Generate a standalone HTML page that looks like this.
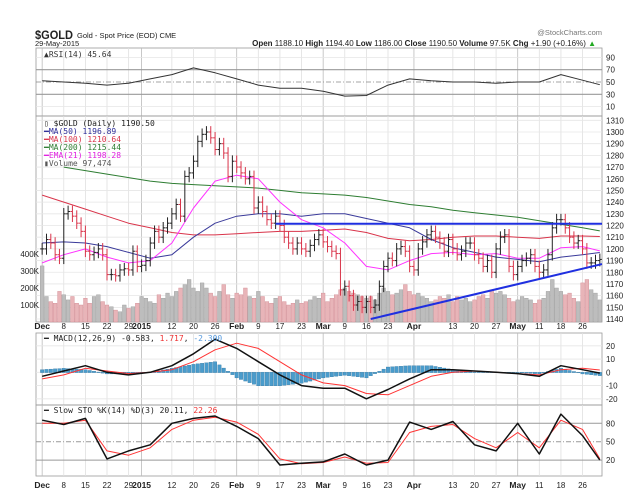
<!DOCTYPE html>
<html><head><meta charset="utf-8">
<style>
body{margin:0;background:#fff;width:633px;height:495px;overflow:hidden}
svg{display:block;font-family:"Liberation Sans",sans-serif}
text{font-size:8px;fill:#222}
</style></head><body>
<svg id="chart" width="633" height="495" viewBox="0 0 633 495">
<g id="grid"></g>
<g id="marks"></g>
<g id="labels"></g>
<text x="35" y="39" textLength="38" lengthAdjust="spacingAndGlyphs" style="font-size:12px;font-weight:bold">$GOLD</text>
<text x="77" y="38" style="font-size:7.5px">Gold - Spot Price (EOD) CME</text>
<text x="35" y="46" style="font-size:7.5px">29-May-2015</text>
<text x="602" y="35" text-anchor="end" style="font-size:7.5px;fill:#777">@StockCharts.com</text>
<text x="596" y="46" text-anchor="end" style="font-size:8px"><tspan font-weight="bold">Open</tspan> 1188.10 <tspan font-weight="bold">High</tspan> 1194.40 <tspan font-weight="bold">Low</tspan> 1186.00 <tspan font-weight="bold">Close</tspan> 1190.50 <tspan font-weight="bold">Volume</tspan> 97.5K <tspan font-weight="bold">Chg</tspan> +1.90 (+0.16%) <tspan fill="#2a2">▲</tspan></text>
</svg>
<script>
const closes=[1200,1208,1205,1195,1192,1230,1232,1228,1222,1215,1198,1195,1197,1200,1195,1178,1178,1177,1182,1183,1182,1198,1185,1186,1190,1205,1215,1210,1218,1222,1230,1238,1228,1262,1265,1275,1292,1298,1300,1295,1285,1290,1282,1262,1275,1270,1265,1260,1262,1235,1240,1232,1225,1222,1228,1220,1210,1205,1200,1205,1200,1198,1203,1208,1212,1206,1202,1198,1196,1165,1168,1160,1152,1155,1150,1155,1150,1152,1168,1185,1192,1190,1200,1202,1198,1185,1182,1200,1206,1212,1215,1210,1205,1198,1208,1200,1195,1198,1205,1205,1195,1192,1185,1190,1180,1200,1210,1212,1185,1178,1185,1190,1192,1195,1185,1180,1182,1195,1218,1225,1225,1218,1210,1205,1207,1200,1188,1188,1190,1191];
const volumes=[330,150,120,110,180,160,130,150,110,100,140,110,150,160,120,100,90,70,60,100,80,90,110,150,140,120,110,160,140,170,150,180,200,220,250,200,180,230,200,170,150,180,220,160,140,170,160,200,150,140,180,150,120,110,140,150,120,100,110,130,110,120,130,150,140,170,120,140,160,190,200,180,170,160,150,140,150,130,170,200,180,160,170,190,220,180,160,170,150,140,120,130,150,140,160,120,150,130,140,120,130,150,160,140,190,170,180,160,140,120,130,150,140,130,110,130,140,180,250,200,180,160,170,140,120,230,250,190,170,130];
const ma50=[1205,1206,1205,1202,1197,1192,1195,1210,1222,1228,1230,1230,1228,1230,1230,1226,1222,1218,1208,1201,1197,1193,1191,1189,1193,1195,1196.9];
const ma100=[1246,1240,1234,1228,1222,1218,1214,1212,1212,1213,1214,1215,1215,1216,1217,1214,1209,1207,1208,1210,1211,1211,1210,1209,1211,1211,1210.6];
const ma200=[null,1270,1267,1264,1261,1258,1256,1255,1254,1253,1252,1250,1248,1247,1246,1244,1241,1238,1236,1233,1231,1229,1227,1224,1221,1218,1215.4];
const ema21=[1188,1195,1200,1193,1188,1190,1205,1235,1258,1263,1260,1240,1225,1218,1205,1185,1182,1190,1196,1197,1195,1196,1192,1192,1201,1202,1198.3];
const rsi=[52,50,48,45,48,55,62,73,65,55,45,40,40,35,27,28,45,55,52,50,50,48,50,50,62,53,45.6];
const macd=[-3,1,5,0,-2,0,5,14,25,18,8,-2,-10,-12,-12,-20,-13,-5,2,2,1,0,-1,-3,5,2,-0.6];
const signal=[-5,-2,3,1,-1,0,2,8,17,22,18,8,-2,-8,-10,-16,-17,-10,-3,0,1,0,-1,-2,2,3,1.7];
const stoK=[85,78,88,22,35,45,80,88,92,75,55,12,15,17,30,12,20,82,70,83,45,35,80,30,95,60,20.1];
const stoD=[80,80,85,35,28,40,70,85,90,82,62,22,14,16,25,15,16,65,75,78,55,40,65,40,85,70,22.3];
const dateLabels=["Dec","8","15","22","29","2015","12","20","26","Feb","9","17","23","Mar","9","16","23","Apr","13","20","27","May","11","18","26"];
const dateIdx=[0,5,10,15,20,23,30,35,40,45,50,55,60,65,70,75,80,86,95,100,105,110,115,120,125];
const priceTicks=[1140,1150,1160,1170,1180,1190,1200,1210,1220,1230,1240,1250,1260,1270,1280,1290,1300,1310];
const volTicks=[100,200,300,400];
const rsiTicks=[10,30,50,70,90];
const macdTicks=[-20,-10,0,10,20];
const stoTicks=[20,50,80];

const NS="http://www.w3.org/2000/svg";
const L=40,R=602,N=closes.length,step=(R-L)/N;
const xi=i=>L+(i+0.5)*step;
const wx=k=>k<26?xi(k*5):xi(N-1);
const py=p=>120.3+(1310-p)*1.169;
const vy=v=>322-v*0.17;
const ry=v=>82-(v-50)*0.615;
const my=v=>372.3-v*1.325;
const sy=v=>441.7-(v-50)*0.613;
const grid=document.getElementById('grid'),marks=document.getElementById('marks'),labels=document.getElementById('labels');
function el(tag,attrs,parent){const e=document.createElementNS(NS,tag);for(const k in attrs)e.setAttribute(k,attrs[k]);parent.appendChild(e);return e;}
function txt(x,y,s,parent,anchor,extra){const t=el('text',{x:x,y:y,'text-anchor':anchor||'start'},parent);t.textContent=s;if(extra)t.setAttribute('style',extra);return t;}

const panels=[[48,116],[116,322],[333,405],[405,476]];
panels.forEach((p,j)=>{
 const r=el('rect',{x:L-4,y:p[0],width:R-L+4,height:p[1]-p[0],fill:'none',stroke:'#999','stroke-width':0.8},grid);
 
 
 dateIdx.forEach(i=>{const ln=el('line',{x1:xi(i),x2:xi(i),y1:p[0],y2:p[1],stroke:(dateLabels[dateIdx.indexOf(i)].length>2?'#bbb':'#e0e0e0'),'stroke-width':0.8},grid);
  
  });
});
priceTicks.forEach(p=>{const y=py(p);const g=el('line',{x1:L-4,x2:R,y1:y,y2:y,stroke:'#e6e6e6','stroke-width':0.8},grid);
 
 
 const t=txt(606,y+3,String(p),labels);
 
 });
volTicks.forEach(v=>{const t=txt(39,vy(v)+3,v+'K',labels,'end');
 
 });
rsiTicks.forEach(v=>{const y=ry(v);const solid=(v==30||v==70);
 const g=el('line',{x1:L-4,x2:R,y1:y,y2:y,stroke:solid?'#999':(v==50?'#888':'#e6e6e6'),'stroke-width':solid?1.2:0.8,'stroke-dasharray':v==50?'5,2,1,2':'none'},grid);
 
 
 const t=txt(606,y+3,String(v),labels);
 
 });
macdTicks.forEach(v=>{const y=my(v);const g=el('line',{x1:L-4,x2:R,y1:y,y2:y,stroke:'#e6e6e6','stroke-width':0.8},grid);
 
 
 const t=txt(606,y+3,String(v),labels);
 
 });
stoTicks.forEach(v=>{const y=sy(v);const g=el('line',{x1:L-4,x2:R,y1:y,y2:y,stroke:'#999','stroke-width':1,'stroke-dasharray':v==50?'5,2,1,2':'none'},grid);
 
 
 const t=txt(606,y+3,String(v),labels);
 
 });
[329,488].forEach(yy=>{dateIdx.forEach((i,k)=>{const s=dateLabels[k];const big=s.length>2;
 const t=txt(xi(i),yy,s,labels,'middle',big?'font-weight:bold;font-size:8.5px':'');
 
 });});
closes.forEach((c,i)=>{const up=i==0||c>=closes[i-1];
 const r=el('rect',{x:xi(i)-step/2+0.3,y:vy(volumes[i]),width:step-0.6,height:322-vy(volumes[i]),fill:up?'#bdbdbd':'#e8b4b8',stroke:up?'#999':'#d08890','stroke-width':0.4},marks);
 
 });
function poly(arr,yf,color,w,name,parent){const pts=[];arr.forEach((v,k)=>{if(v!==null)pts.push(wx(k).toFixed(1)+','+yf(v).toFixed(1));});
 const p=el('polyline',{points:pts.join(' '),fill:'none',stroke:color,'stroke-width':w,'stroke-linejoin':'round'},parent||marks);
 
 return p;}
poly(ma200,py,'#2e7d32',1,'ma200-line');
poly(ma100,py,'#d9344a',1,'ma100-line');
poly(ma50,py,'#3a3a9a',1,'ma50-line');
poly(ema21,py,'#ff33ff',1,'ema21-line');
closes.forEach((c,i)=>{const o=i==0?c:closes[i-1];const hi=Math.max(o,c)+5,lo=Math.min(o,c)-5;const up=i==0||c>=o;const col=up?'#222':'#d9344a';const x=xi(i);
 const g=el('g',{stroke:col,'stroke-width':1},marks);
 
 
 el('line',{x1:x,x2:x,y1:py(hi),y2:py(lo)},g);
 el('line',{x1:x-2,x2:x,y1:py(o),y2:py(o)},g);
 el('line',{x1:x,x2:x+2,y1:py(c),y2:py(c)},g);});
const tl1=el('line',{x1:xi(54),x2:R,y1:py(1221.5),y2:py(1221.5),stroke:'#1f2fe0','stroke-width':2},marks);


const tl2=el('line',{x1:xi(76),x2:R,y1:py(1140),y2:py(1187),stroke:'#1f2fe0','stroke-width':2},marks);


poly(rsi,ry,'#333',1,'rsi-line');
const defs=el('defs',{},marks);const cp=el('clipPath',{id:'mclip'},defs);el('rect',{x:L,y:334,width:R-L,height:70},cp);
const mg=el('g',{'clip-path':'url(#mclip)'},marks);


function interp(arr,i){const k=Math.min(25.999,i/5);const k0=Math.floor(k);const i0=k0*5,i1=k0+1<26?(k0+1)*5:N-1;const t=(i-i0)/(i1-i0);return arr[k0]+(arr[k0+1]-arr[k0])*Math.min(1,t);}
for(let i=0;i<N;i++){const h=interp(macd,i)-interp(signal,i);const y0=my(0),y1=my(h);
 const r=el('rect',{x:xi(i)-step/2+0.4,y:Math.min(y0,y1),width:step-0.8,height:Math.abs(y1-y0)+0.3,fill:'#4a9ccc',stroke:'#2a6f9a','stroke-width':0.3},mg);
 
 }
poly(signal,my,'#ff3333',1,'macd-signal-line',mg);
poly(macd,my,'#111',1.5,'macd-line',mg);
poly(stoD,sy,'#ff3333',1,'sto-d-line');
poly(stoK,sy,'#111',1.5,'sto-k-line');
const lg=(x,y,s,col,name)=>{const t=txt(x,y,s,labels,'start','font-family:"DejaVu Sans Mono","Liberation Mono",monospace;font-size:8px;fill:'+col);return t;};
lg(44,57,'▲RSI(14) 45.64','#333','rsi-legend');
lg(44,126,'▯ $GOLD (Daily) 1190.50','#222','legend-gold');
lg(44,134,'━MA(50) 1196.89','#2d2d99','legend-ma50');
lg(44,142,'━MA(100) 1210.64','#d9344a','legend-ma100');
lg(44,150,'━MA(200) 1215.44','#2e7d32','legend-ma200');
lg(44,158,'━EMA(21) 1198.28','#e020e0','legend-ema21');
lg(44,166,'▮Volume 97,474','#555','legend-volume');
const ml=lg(44,341,'','#222','macd-legend');ml.innerHTML='━ MACD(12,26,9) -0.583, <tspan fill="#e33">1.717</tspan>, <tspan fill="#5599dd">-2.300</tspan>';
const sl=lg(44,413,'','#222','sto-legend');sl.innerHTML='━ Slow STO %K(14) %D(3) 20.11, <tspan fill="#e33">22.26</tspan>';
</script>
</body></html>
